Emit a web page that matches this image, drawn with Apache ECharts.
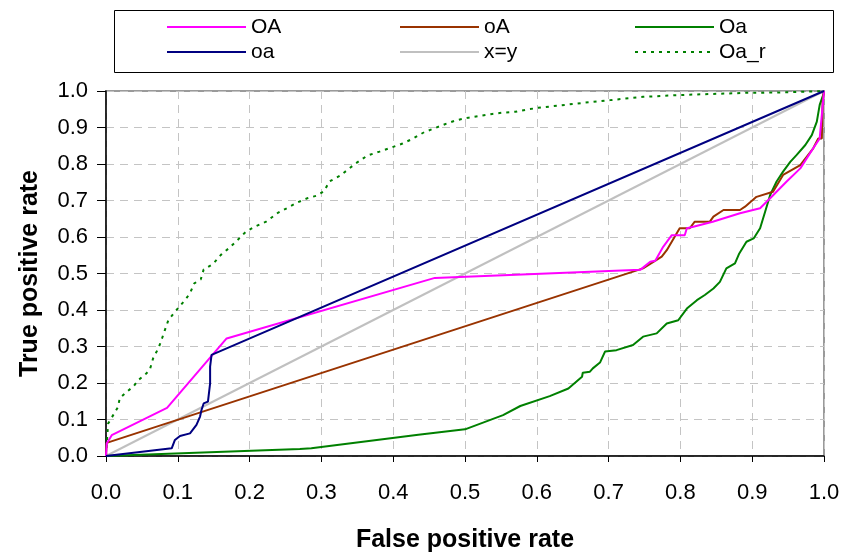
<!DOCTYPE html>
<html>
<head>
<meta charset="utf-8">
<script src="https://cdn.jsdelivr.net/npm/echarts@6/dist/echarts.min.js"></script>
<style>
  html, body { margin: 0; padding: 0; background: #fff; }
  #chart { width: 846px; height: 554px; }
</style>
</head>
<body>
<div id="chart"></div>
<script>
// tick labels
const xTicks = [0, 0.1, 0.2, 0.3, 0.4, 0.5, 0.6, 0.7, 0.8, 0.9, 1.0];
const yTicks = [0, 0.1, 0.2, 0.3, 0.4, 0.5, 0.6, 0.7, 0.8, 0.9, 1.0];

// ROC curves, [false positive rate, true positive rate]
const curveOA = [[0,0],[0.001,0.034],[0.008,0.057],[0.085,0.132],[0.168,0.322],[0.458,0.488],[0.744,0.51],[0.758,0.532],[0.765,0.535],[0.776,0.573],[0.788,0.605],[0.806,0.605],[0.809,0.624],[0.818,0.628],[0.845,0.642],[0.883,0.665],[0.911,0.679],[0.925,0.706],[0.948,0.752],[0.967,0.788],[0.985,0.843],[0.994,0.87],[1,1]];
const curveoA = [[0,0],[0.001,0.036],[0.748,0.514],[0.774,0.546],[0.781,0.564],[0.799,0.624],[0.813,0.624],[0.82,0.642],[0.841,0.642],[0.846,0.656],[0.86,0.674],[0.883,0.674],[0.89,0.683],[0.906,0.71],[0.929,0.724],[0.943,0.77],[0.967,0.797],[0.985,0.843],[0.992,0.87],[0.997,0.87],[0.998,0.97],[1,1]];
const curveOa = [[0,0],[0.27,0.019],[0.286,0.021],[0.435,0.058],[0.5,0.073],[0.553,0.112],[0.577,0.137],[0.618,0.164],[0.644,0.185],[0.663,0.217],[0.664,0.228],[0.674,0.231],[0.678,0.24],[0.688,0.256],[0.695,0.286],[0.711,0.29],[0.734,0.304],[0.748,0.327],[0.767,0.336],[0.781,0.363],[0.797,0.372],[0.809,0.404],[0.823,0.427],[0.834,0.441],[0.846,0.459],[0.855,0.477],[0.864,0.514],[0.876,0.528],[0.882,0.555],[0.892,0.587],[0.902,0.596],[0.911,0.624],[0.918,0.669],[0.925,0.715],[0.934,0.752],[0.943,0.779],[0.953,0.806],[0.962,0.825],[0.974,0.852],[0.983,0.879],[0.99,0.916],[0.994,0.962],[0.999,0.99],[1,1]];
const curveoa = [[0,0],[0.0915,0.021],[0.096,0.044],[0.103,0.055],[0.117,0.062],[0.126,0.085],[0.131,0.108],[0.133,0.126],[0.136,0.144],[0.142,0.149],[0.145,0.199],[0.145,0.245],[0.147,0.277],[1,1]];
const curveXY = [[0,0],[1,1]];
const curveOar = [[0,0],[0.001,0.034],[0.003,0.089],[0.01,0.112],[0.017,0.135],[0.019,0.158],[0.029,0.176],[0.038,0.19],[0.045,0.208],[0.054,0.222],[0.061,0.236],[0.066,0.27],[0.073,0.295],[0.078,0.322],[0.082,0.345],[0.087,0.373],[0.094,0.39],[0.102,0.409],[0.11,0.427],[0.117,0.446],[0.123,0.473],[0.132,0.484],[0.136,0.511],[0.149,0.526],[0.16,0.551],[0.171,0.569],[0.182,0.589],[0.195,0.615],[0.209,0.63],[0.223,0.642],[0.24,0.667],[0.252,0.679],[0.266,0.694],[0.28,0.706],[0.293,0.713],[0.304,0.726],[0.311,0.752],[0.326,0.768],[0.337,0.785],[0.348,0.802],[0.364,0.823],[0.381,0.834],[0.397,0.845],[0.413,0.856],[0.428,0.87],[0.443,0.887],[0.459,0.899],[0.472,0.909],[0.488,0.92],[0.505,0.927],[0.521,0.932],[0.538,0.937],[0.554,0.941],[0.57,0.943],[0.586,0.949],[0.602,0.954],[0.667,0.968],[0.702,0.975],[0.748,0.984],[0.8,0.989],[0.846,0.992],[0.892,0.995],[0.939,0.996],[0.985,0.999],[1,1]];

const FONT = '"Liberation Sans", Arial, sans-serif';

const chart = echarts.init(document.getElementById('chart'));

const lineSeries = (name, data, color, type) => ({
  name,
  type: 'line',
  data,
  symbol: 'none',
  animation: false,
  lineStyle: { color, width: 2, type: type || 'solid' },
  itemStyle: { color },
});

// three legend columns, two rows each
const legendBase = {
  orient: 'vertical',
  top: 16,
  padding: 0,
  itemWidth: 79,
  itemHeight: 14,
  itemGap: 3,
  itemStyle: { opacity: 0 },
  textStyle: { fontFamily: FONT, fontSize: 21, color: '#000', lineHeight: 22 },
};

const option = {
  backgroundColor: '#fff',
  textStyle: { fontFamily: FONT },
  grid: {
    left: 106,
    right: 22,
    top: 91,
    bottom: 98,
    outerBoundsMode: 'none',
    containLabel: false,
    show: true,
    borderColor: '#9a9a9a',
    borderWidth: 2,
  },
  legend: [
    { ...legendBase, left: 166, data: ['OA', 'oa'] },
    { ...legendBase, left: 399, data: ['oA', 'x=y'] },
    { ...legendBase, left: 634, data: ['Oa', 'Oa_r'] },
  ],
  graphic: [
    {
      type: 'rect',
      shape: { x: 114.5, y: 10.5, width: 719, height: 62 },
      style: { fill: 'none', stroke: '#000', lineWidth: 1 },
      silent: true,
    },
  ],
  xAxis: {
    type: 'value',
    min: 0,
    max: 1,
    interval: 0.1,
    name: 'False positive rate',
    nameLocation: 'middle',
    nameGap: 72,
    nameTextStyle: { fontFamily: FONT, fontSize: 25, fontWeight: 'bold', color: '#000' },
    axisLine: { lineStyle: { color: '#000', width: 1.5 } },
    axisTick: { show: true, length: 6, lineStyle: { color: '#000' } },
    axisLabel: {
      fontFamily: FONT, fontSize: 22, color: '#000', margin: 26,
      formatter: v => (xTicks.includes(+v.toFixed(1)) ? v.toFixed(1) : ''),
    },
    splitLine: { show: true, lineStyle: { color: '#c4c4c4', type: [8, 6], width: 1 } },
  },
  yAxis: {
    type: 'value',
    min: 0,
    max: 1,
    interval: 0.1,
    name: 'True positive rate',
    nameLocation: 'middle',
    nameGap: 63,
    nameTextStyle: { fontFamily: FONT, fontSize: 25, fontWeight: 'bold', color: '#000' },
    axisLine: { show: true, lineStyle: { color: '#000', width: 1.5 } },
    axisTick: { show: true, length: 9, lineStyle: { color: '#000' } },
    axisLabel: {
      fontFamily: FONT, fontSize: 22, color: '#000', margin: 18,
      formatter: v => (yTicks.includes(+v.toFixed(1)) ? v.toFixed(1) : ''),
    },
    splitLine: { show: true, lineStyle: { color: '#c4c4c4', type: [8, 6], width: 1 } },
  },
  series: [
    lineSeries('x=y', curveXY, '#c0c0c0'),
    lineSeries('Oa_r', curveOar, '#008000', [3, 5]),
    lineSeries('Oa', curveOa, '#008000'),
    lineSeries('oA', curveoA, '#993300'),
    lineSeries('OA', curveOA, '#ff00ff'),
    lineSeries('oa', curveoa, '#000080'),
  ],
};

chart.setOption(option);
</script>
</body>
</html>
